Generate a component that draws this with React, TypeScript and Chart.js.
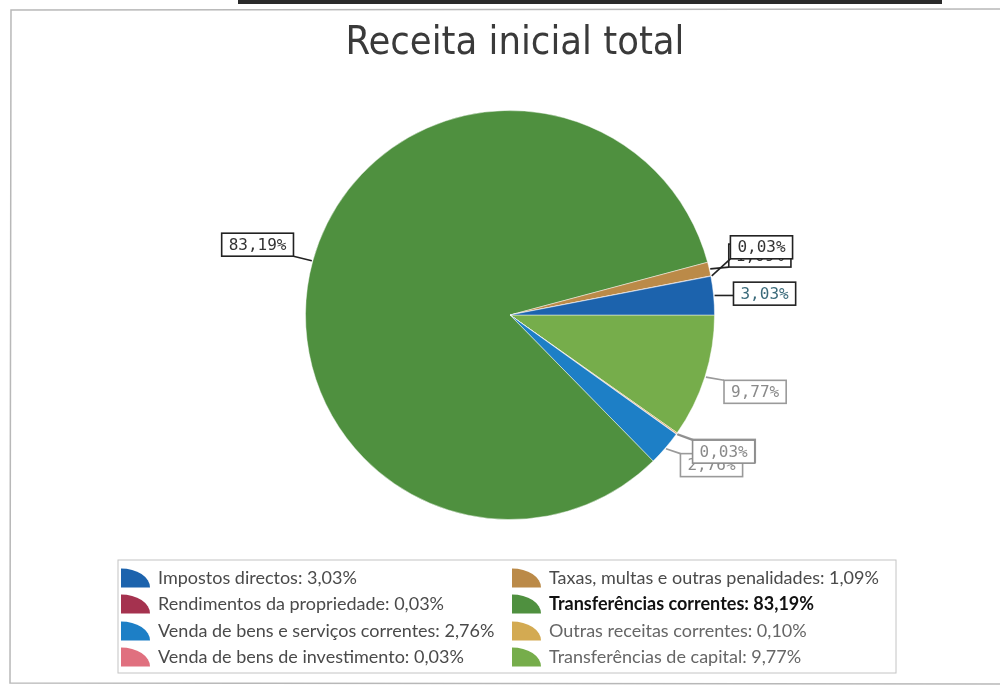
import React, { useEffect, useRef } from "react";
import { Chart, registerables } from "chart.js";

Chart.register(...registerables);

// Slices, clockwise from 3 o'clock
const CATEGORIES = [
  "Transferências de capital",
  "Outras receitas correntes",
  "Venda de bens de investimento",
  "Venda de bens e serviços correntes",
  "Transferências correntes",
  "Taxas, multas e outras penalidades",
  "Rendimentos da propriedade",
  "Impostos directos",
];
const SHARES = [9.77, 0.1, 0.03, 2.76, 83.19, 1.09, 0.03, 3.03];
const COLORS = [
  "#76ad4b",
  "#d3aa52",
  "#e0707f",
  "#1d7fc6",
  "#4f903f",
  "#bb8a48",
  "#a5324f",
  "#1c63ad",
];

const TITLE = "Receita inicial total";

// legend, column-major (4 rows x 2 columns)
const LEGEND_ORDER = [
  "Impostos directos",
  "Rendimentos da propriedade",
  "Venda de bens e serviços correntes",
  "Venda de bens de investimento",
  "Taxas, multas e outras penalidades",
  "Transferências correntes",
  "Outras receitas correntes",
  "Transferências de capital",
];

// data-label styling (border colour, text colour, vertical nudge)
const LABEL_STYLE: Record<string, { border: string; text: string; nudge: number }> = {
  "Transferências de capital": { border: "#9a9a9a", text: "#8a8a8a", nudge: 9 },
  "Outras receitas correntes": { border: "#9a9a9a", text: "#8a8a8a", nudge: 6 },
  "Venda de bens de investimento": { border: "#8e8e8e", text: "#8a8a8a", nudge: 6 },
  "Venda de bens e serviços correntes": { border: "#9a9a9a", text: "#8a8a8a", nudge: 4 },
  "Transferências correntes": { border: "#222", text: "#333", nudge: -11 },
  "Taxas, multas e outras penalidades": { border: "#222", text: "#333", nudge: -9 },
  "Rendimentos da propriedade": { border: "#222", text: "#333", nudge: -25 },
  "Impostos directos": { border: "#222", text: "#3b6b7b", nudge: 0 },
};
const LABEL_DRAW_ORDER = [1, 3, 2, 0, 5, 6, 7, 4];

const fmt = (v: number) => v.toFixed(2).replace(".", ",") + "%";

const decorPlugin = {
  id: "decor",
  beforeDraw(chart: any) {
    const ctx = chart.ctx as CanvasRenderingContext2D;
    ctx.save();
    ctx.fillStyle = "#ffffff";
    ctx.fillRect(0, 0, chart.width, chart.height);
    // scanned frame
    ctx.strokeStyle = "#2a2a2a";
    ctx.lineWidth = 4;
    ctx.beginPath();
    ctx.moveTo(238, 2);
    ctx.lineTo(942, 2);
    ctx.stroke();
    ctx.strokeStyle = "#b8b8b8";
    ctx.lineWidth = 1.5;
    ctx.beginPath();
    ctx.moveTo(1000, 9);
    ctx.lineTo(11, 10);
    ctx.lineTo(10, 683);
    ctx.lineTo(1000, 684);
    ctx.stroke();
    ctx.restore();
  },
  afterDraw(chart: any) {
    const ctx = chart.ctx as CanvasRenderingContext2D;
    ctx.save();
    // title
    ctx.fillStyle = "#3a3a3a";
    ctx.font = "39.5px 'DejaVu Sans Condensed', 'DejaVu Sans'";
    ctx.textAlign = "center";
    ctx.textBaseline = "alphabetic";
    ctx.fillText(TITLE, 515, 54);

    // data labels
    const meta = chart.getDatasetMeta(0);
    ctx.font = "16px 'DejaVu Sans Mono'";
    ctx.textAlign = "center";
    ctx.textBaseline = "middle";
    for (const i of LABEL_DRAW_ORDER) {
      const arc = meta.data[i];
      const p = arc.getProps(["x", "y", "startAngle", "endAngle", "outerRadius"], true);
      const mid = (p.startAngle + p.endAngle) / 2;
      const dx = Math.cos(mid);
      const dy = Math.sin(mid);
      const st = LABEL_STYLE[CATEGORIES[i]];
      const text = fmt(SHARES[i]);
      const w = ctx.measureText(text).width + 14;
      const h = 23;
      const ax = p.x + (p.outerRadius + 20) * dx;
      const ay = p.y + (p.outerRadius + 20) * dy;
      const bx = dx >= 0 ? ax : ax - w;
      const by = ay + st.nudge - h / 2;
      const ex = p.x + (p.outerRadius + 1) * dx;
      const ey = p.y + (p.outerRadius + 1) * dy;
      const nx = Math.min(Math.max(ex, bx), bx + w);
      const ny = Math.min(Math.max(ey, by), by + h);
      ctx.strokeStyle = st.border;
      ctx.lineWidth = 1.6;
      ctx.beginPath();
      ctx.moveTo(ex, ey);
      ctx.lineTo(nx, ny);
      ctx.stroke();
      ctx.fillStyle = "#ffffff";
      ctx.fillRect(bx, by, w, h);
      ctx.strokeRect(bx, by, w, h);
      ctx.fillStyle = st.text;
      ctx.fillText(text, bx + w / 2, by + h / 2 + 1);
    }

    // legend
    const L = { left: 118, top: 560, right: 896, bottom: 673 };
    ctx.strokeStyle = "#c4c4c4";
    ctx.lineWidth = 1;
    ctx.strokeRect(L.left, L.top, L.right - L.left, L.bottom - L.top);
    const colX = [121, 512];
    const rowY = [578, 604, 631, 657];
    ctx.textAlign = "left";
    ctx.textBaseline = "middle";
    LEGEND_ORDER.forEach((name, k) => {
      const idx = CATEGORIES.indexOf(name);
      const col = Math.floor(k / 4);
      const row = k % 4;
      const x = colX[col];
      const yc = rowY[row];
      const iw = 29;
      const ih = 19;
      const yb = yc + ih / 2;
      ctx.fillStyle = COLORS[idx];
      ctx.beginPath();
      ctx.moveTo(x, yb);
      ctx.lineTo(x, yb - ih);
      ctx.ellipse(x, yb, iw, ih, 0, -Math.PI / 2, 0);
      ctx.closePath();
      ctx.fill();
      const bold = name === "Transferências correntes";
      ctx.font = (bold ? "bold " : "") + "18px Lato";
      ctx.fillStyle = bold ? "#111" : col === 1 && row >= 2 ? "#666" : "#4a4a4a";
      ctx.fillText(name + ": " + fmt(SHARES[idx]), x + 37, yc);
    });
    ctx.restore();
  },
};

export default function App() {
  const ref = useRef<HTMLCanvasElement | null>(null);
  useEffect(() => {
    document.body.style.margin = "0";
    const chart = new Chart(ref.current as HTMLCanvasElement, {
      type: "pie",
      data: {
        labels: CATEGORIES,
        datasets: [
          {
            data: SHARES,
            backgroundColor: COLORS,
            borderColor: "rgba(255,255,255,0.45)",
            borderWidth: 1,
          },
        ],
      },
      options: {
        responsive: false,
        animation: false,
        rotation: 90,
        layout: { padding: { left: 20, right: 0, top: 110, bottom: 169 } },
        plugins: {
          legend: { display: false },
          title: { display: false },
          tooltip: { enabled: false },
        },
      },
      plugins: [decorPlugin],
    });
    return () => chart.destroy();
  }, []);
  return (
    <div style={{ width: 1000, height: 689 }}>
      <canvas ref={ref} width={1000} height={689} style={{ display: "block" }} />
    </div>
  );
}
